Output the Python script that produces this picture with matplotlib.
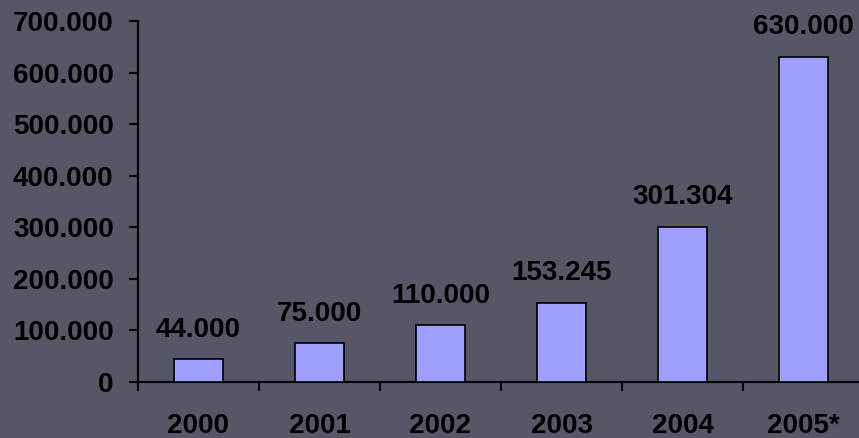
import matplotlib
matplotlib.use("Agg")
import matplotlib.pyplot as plt
from matplotlib.ticker import FixedLocator, FuncFormatter

years = ["2000", "2001", "2002", "2003", "2004", "2005*"]
values = [44000, 75000, 110000, 153245, 301304, 630000]
value_labels = ["44.000", "75.000", "110.000", "153.245", "301.304", "630.000"]
y_ticks = [0, 100000, 200000, 300000, 400000, 500000, 600000, 700000]

BG = "#555666"
BAR = "#9f9fff"

plt.rcParams["font.family"] = ["Liberation Sans", "DejaVu Sans"]

fig = plt.figure(figsize=(8.59, 4.38), dpi=100, facecolor=BG)
ax = fig.add_axes([138/859, 56/438, 726/859, 361/438])
ax.set_facecolor(BG)
ax.patch.set_alpha(0)

x = list(range(len(years)))
ax.bar(x, values, width=0.40, color=BAR, edgecolor="black", linewidth=1.2, zorder=3)

for xi, v, lab in zip(x, values, value_labels):
    ax.annotate(lab, (xi, v), xytext=(0, 12), textcoords="offset points",
                ha="center", va="bottom", fontsize=20, fontweight="bold", color="black")

ax.set_xlim(-0.5, len(years) - 0.5)
ax.set_ylim(0, 700000)

ax.set_yticks(y_ticks)
ax.yaxis.set_major_formatter(FuncFormatter(lambda v, p: f"{int(v):,}".replace(",", ".")))
ax.set_xticks(x)
ax.set_xticklabels(years)
ax.xaxis.set_minor_locator(FixedLocator([i - 0.5 for i in range(len(years) + 1)]))

ax.tick_params(axis="y", direction="out", length=6.5, width=1.5, color="black",
               labelsize=20, pad=11)
ax.tick_params(axis="x", which="major", length=0, labelsize=20, pad=22)
ax.tick_params(axis="x", which="minor", direction="out", length=6.5, width=1.5, color="black")
for lab in ax.get_xticklabels() + ax.get_yticklabels():
    lab.set_fontweight("bold")
    lab.set_color("black")

for s in ["top", "right"]:
    ax.spines[s].set_visible(False)
for s in ["left", "bottom"]:
    ax.spines[s].set_linewidth(1.5)
    ax.spines[s].set_color("black")

fig.savefig("out.png", dpi=100, facecolor=BG)
